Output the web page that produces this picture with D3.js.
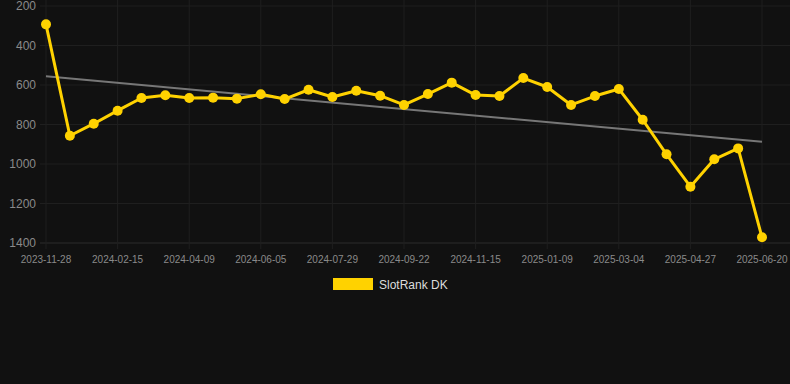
<!DOCTYPE html>
<html>
<head>
<meta charset="utf-8">
<script src="https://cdn.jsdelivr.net/npm/d3@7"></script>
<style>
    html, body { margin: 0; padding: 0; background: #111111; }
    svg { display: block; font-family: "Liberation Sans", Arial, sans-serif; }
</style>
</head>
<body>
<svg id="chart" width="790" height="384"></svg>
<script>
// x categories (every 3rd one is labelled)
const dates = [
    "2023-11-28", "2023-12-24", "2024-01-20", "2024-02-15", "2024-03-03", "2024-03-21",
    "2024-04-09", "2024-04-28", "2024-05-17", "2024-06-05", "2024-06-23", "2024-07-11",
    "2024-07-29", "2024-08-16", "2024-09-04", "2024-09-22", "2024-10-10", "2024-10-28",
    "2024-11-15", "2024-12-03", "2024-12-21", "2025-01-09", "2025-01-27", "2025-02-14",
    "2025-03-04", "2025-03-22", "2025-04-09", "2025-04-27", "2025-05-15", "2025-06-02",
    "2025-06-20"
];
const rank = [
    293, 857, 796, 730, 666, 652, 666, 664, 669, 647, 671, 624, 661, 629, 654,
    701, 646, 588, 651, 656, 565, 610, 701, 656, 620, 776, 951, 1115, 976, 921,
    1371
];
const yTicks = [200, 400, 600, 800, 1000, 1200, 1400];
const seriesName = "SlotRank DK";

const lineColor = "#ffd200";
const gridColor = "#1f1f1f";

let margin = {
    top: 6,
    left: 46,
    right: 28,
    bottom: 141
};
let width = 790, height = 384;

const svg = d3.select("#chart");

let x = d3.scalePoint()
    .domain(dates)
    .range([margin.left, width - margin.right]);
let y = d3.scaleLinear()
    .domain([200, 1400])
    .range([margin.top, height - margin.bottom]);

const labelled = dates.filter((d, i) => i % 3 === 0);

// horizontal grid
svg.append("g")
    .selectAll("line")
    .data(yTicks)
    .join("line")
    .attr("x1", 40)
    .attr("x2", width)
    .attr("y1", d => y(d))
    .attr("y2", d => y(d))
    .attr("stroke", d => d === 1400 ? "#2c2c2c" : gridColor)
    .attr("stroke-width", 1);

// vertical grid
svg.append("g")
    .selectAll("line")
    .data(labelled)
    .join("line")
    .attr("x1", d => x(d))
    .attr("x2", d => x(d))
    .attr("y1", 0)
    .attr("y2", y(1400) + 6)
    .attr("stroke", gridColor)
    .attr("stroke-width", 1);

// y labels
svg.append("g")
    .selectAll("text")
    .data(yTicks)
    .join("text")
    .attr("x", 36)
    .attr("y", d => y(d))
    .attr("dy", "0.35em")
    .attr("text-anchor", "end")
    .attr("fill", "#8a8a8a")
    .attr("font-size", 12)
    .text(d => d);

// x labels
svg.append("g")
    .selectAll("text")
    .data(labelled)
    .join("text")
    .attr("x", d => x(d))
    .attr("y", 263)
    .attr("text-anchor", "middle")
    .attr("fill", "#8a8a8a")
    .attr("font-size", 10)
    .text(d => d);

// trend line (least squares over the index)
let n = rank.length;
let xm = d3.mean(d3.range(n));
let ym = d3.mean(rank);
let slope = d3.sum(rank, (v, i) => (i - xm) * (v - ym)) / d3.sum(rank, (v, i) => (i - xm) * (i - xm));
let icpt = ym - slope * xm;
svg.append("line")
    .attr("x1", x(dates[0]))
    .attr("x2", x(dates[n - 1]))
    .attr("y1", y(icpt))
    .attr("y2", y(icpt + slope * (n - 1)))
    .attr("stroke", "#777")
    .attr("stroke-width", 2);

// series
let line = d3.line()
    .x((d, i) => x(dates[i]))
    .y(d => y(d));
svg.append("path")
    .datum(rank)
    .attr("d", line)
    .attr("fill", "none")
    .attr("stroke", lineColor)
    .attr("stroke-width", 3)
    .attr("stroke-linejoin", "round");

svg.append("g")
    .selectAll("circle")
    .data(rank)
    .join("circle")
    .attr("cx", (d, i) => x(dates[i]))
    .attr("cy", d => y(d))
    .attr("r", 5)
    .attr("fill", lineColor);

// legend
const lg = svg.append("g");
lg.append("rect")
    .attr("x", 333)
    .attr("y", 278)
    .attr("width", 40)
    .attr("height", 12)
    .attr("fill", lineColor);
lg.append("text")
    .attr("x", 379)
    .attr("y", 289)
    .attr("fill", "#dddddd")
    .attr("font-size", 12)
    .text(seriesName);
</script>
</body>
</html>
